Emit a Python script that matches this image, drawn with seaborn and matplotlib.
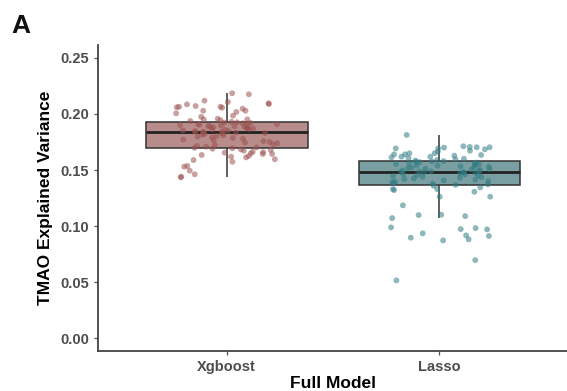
import numpy as np
import pandas as pd
import matplotlib
matplotlib.use("Agg")
import matplotlib.pyplot as plt
import seaborn as sns

# values
models = ["Xgboost", "Lasso"]

xgboost_vals = [
    0.2185, 0.2176, 0.2119, 0.2107, 0.2095, 0.2089, 0.2086, 0.2071, 0.2065, 0.2065,
    0.2060, 0.2056, 0.2047, 0.2029, 0.2029, 0.2018, 0.2006, 0.1985, 0.1975, 0.1958,
    0.1952, 0.1952, 0.1945, 0.1938, 0.1930,
    0.1702, 0.1708, 0.1715, 0.1722, 0.1730, 0.1738, 0.1745, 0.1750, 0.1758, 0.1765,
    0.1772, 0.1780, 0.1786, 0.1792, 0.1798, 0.1805, 0.1810, 0.1816, 0.1822, 0.1826,
    0.1830, 0.1834, 0.1837, 0.1840, 0.1842, 0.1843, 0.1846, 0.1850, 0.1854, 0.1858,
    0.1862, 0.1866, 0.1870, 0.1874, 0.1878, 0.1882, 0.1886, 0.1889, 0.1892, 0.1895,
    0.1898, 0.1901, 0.1905, 0.1908, 0.1911, 0.1914, 0.1917, 0.1920, 0.1923, 0.1926,
    0.1435, 0.1440, 0.1462, 0.1494, 0.1530, 0.1536, 0.1574, 0.1589, 0.1596, 0.1613,
    0.1619, 0.1625, 0.1634, 0.1643, 0.1643, 0.1649, 0.1655, 0.1660, 0.1663, 0.1672,
    0.1679, 0.1684, 0.1690, 0.1694, 0.1698,
]

lasso_vals = [
    0.1813, 0.1712, 0.1706, 0.1703, 0.1703, 0.1700, 0.1693, 0.1693, 0.1685, 0.1672,
    0.1665, 0.1650, 0.1649, 0.1640, 0.1640, 0.1634, 0.1628, 0.1619, 0.1619, 0.1613,
    0.1605, 0.1600, 0.1595, 0.1590, 0.1584,
    0.1368, 0.1372, 0.1378, 0.1385, 0.1390, 0.1396, 0.1402, 0.1408, 0.1414, 0.1420,
    0.1425, 0.1430, 0.1436, 0.1440, 0.1445, 0.1450, 0.1455, 0.1460, 0.1465, 0.1470,
    0.1474, 0.1477, 0.1480, 0.1482, 0.1484, 0.1486, 0.1489, 0.1492, 0.1496, 0.1500,
    0.1504, 0.1508, 0.1512, 0.1516, 0.1520, 0.1525, 0.1530, 0.1534, 0.1538, 0.1542,
    0.1546, 0.1550, 0.1554, 0.1558, 0.1562, 0.1566, 0.1570, 0.1573, 0.1576, 0.1579,
    0.0515, 0.0696, 0.0872, 0.0881, 0.0896, 0.0911, 0.0917, 0.0935, 0.0970, 0.0973,
    0.0982, 0.0988, 0.1071, 0.1089, 0.1098, 0.1101, 0.1185, 0.1262, 0.1262, 0.1306,
    0.1321, 0.1330, 0.1330, 0.1345, 0.1360,
]

y_ticks = [0.00, 0.05, 0.10, 0.15, 0.20, 0.25]

df = pd.DataFrame({
    "model": ["Xgboost"] * len(xgboost_vals) + ["Lasso"] * len(lasso_vals),
    "value": xgboost_vals + lasso_vals,
})

box_colors = {"Xgboost": "#b88c8a", "Lasso": "#7a9fa3"}
point_colors = {"Xgboost": "#9a5250", "Lasso": "#2f7c82"}

plt.rcParams["font.family"] = ["Liberation Sans", "DejaVu Sans"]

fig = plt.figure(figsize=(5.67, 3.91), dpi=100)
ax = fig.add_axes([0.173, 0.102, 0.827, 0.783])

sns.boxplot(
    data=df, x="model", y="value", hue="model", order=models,
    palette=box_colors, saturation=1, width=0.76, whis=1.5,
    showfliers=False, showcaps=False, linecolor="#333333", linewidth=1.1,
    medianprops=dict(color="#222222", linewidth=2), legend=False, ax=ax,
)

np.random.seed(3)
sns.stripplot(
    data=df, x="model", y="value", hue="model", order=models,
    palette=point_colors, jitter=0.25, size=4.2, alpha=0.55,
    linewidth=0, legend=False, ax=ax,
)

ax.set_xlim(-0.605, 1.6)
ax.set_ylim(-0.0116, 0.2616)
ax.set_yticks(y_ticks)
ax.set_yticklabels([f"{t:.2f}" for t in y_ticks])

for s in ["top", "right"]:
    ax.spines[s].set_visible(False)
for s in ["left", "bottom"]:
    ax.spines[s].set_color("#444444")
    ax.spines[s].set_linewidth(1.3)

ax.tick_params(axis="both", colors="#555555", length=3, width=0.9, labelsize=10.5)
for lbl in ax.get_xticklabels() + ax.get_yticklabels():
    lbl.set_fontweight("bold")
    lbl.set_color("#4d4d4d")

ax.set_xlabel("Full Model", fontsize=12.5, fontweight="bold", color="black", labelpad=1)
ax.set_ylabel("TMAO Explained Variance", fontsize=12.5, fontweight="bold", color="black", labelpad=5)

fig.text(0.02, 0.915, "A", fontsize=19, fontweight="bold", color="#111111")

fig.savefig("out.png", dpi=100, facecolor="white")
